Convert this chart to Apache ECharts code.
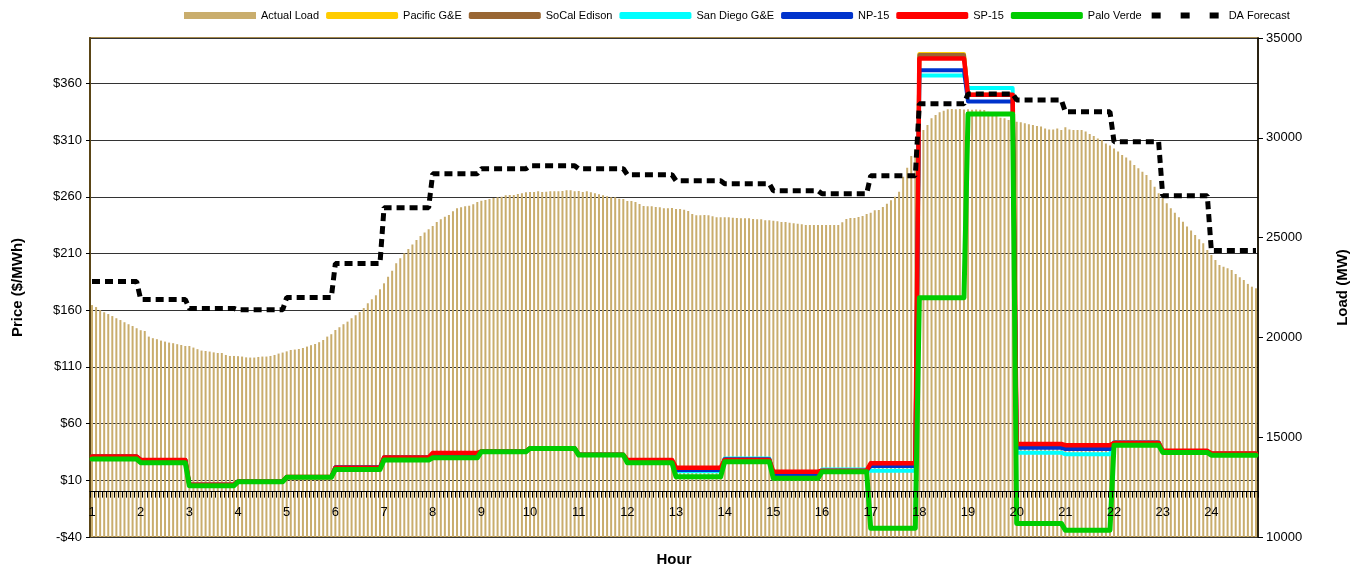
<!DOCTYPE html>
<html>
<head>
<meta charset="utf-8">
<script src="https://cdn.jsdelivr.net/npm/echarts/dist/echarts.min.js"></script>
<style>
  html, body { margin: 0; padding: 0; background: #fff; }
  #chart { width: 1356px; height: 567px; }
</style>
</head>
<body>
<div id="chart"></div>
<script>
// hour labels on the category axis (12 five-minute slots per hour)
const hourLabels = ['1','2','3','4','5','6','7','8','9','10','11','12','13','14','15','16','17','18','19','20','21','22','23','24'];

// actual load, MW, one value per 5-minute interval (288)
const actualLoad = [
  21620,21520,21370,21260,21170,21070,20960,20870,20760,20660,
  20570,20460,20360,20320,20040,19960,19910,19840,19790,19740,
  19710,19660,19620,19570,19570,19490,19410,19340,19320,19290,
  19250,19220,19220,19120,19070,19070,19060,19040,19000,18990,
  18990,19020,19040,19040,19070,19120,19190,19240,19300,19370,
  19390,19420,19470,19540,19610,19670,19760,19870,20040,20160,
  20370,20510,20660,20790,20960,21110,21270,21470,21710,21910,
  22110,22410,22710,23040,23340,23710,23960,24210,24430,24650,
  24880,25080,25250,25420,25580,25780,25920,26050,26130,26320,
  26470,26520,26570,26590,26670,
  26780,26850,26880,26930,26980,27020,27050,27120,27130,27130,
  27180,27220,27270,27280,27280,27320,27280,27300,27320,27320,
  27320,27330,27370,27370,27320,27330,27280,27320,27270,27220,
  27170,27120,27070,27020,27020,26950,26930,26830,26830,26780,
  26680,26580,26570,26570,26530,26520,26470,26470,26480,26430,
  26430,26400,26330,26180,26120,26120,26130,26120,26070,26020,
  26020,26020,26020,26000,25980,25970,25970,25970,25930,25920,
  25920,25870,25870,25850,25820,25780,25780,25750,25720,25700,
  25670,25630,25630,25630,25630,25630,25630,25630,25630,25630,
  25770,25930,25980,25980,26030,26080,26180,26250,26370,26380,
  26530,26700,26870,27050,27300,
  28050,28500,29090,29440,29890,30390,30640,30980,31140,31280,
  31360,31430,31440,31430,31440,31420,31430,31400,31420,31400,
  31390,31300,31100,
  31090,31000,30980,30890,30840,30810,30780,30730,30680,30640,
  30590,30560,30470,30420,30420,30460,30390,30530,30420,30390,
  30390,30390,30310,30190,30090,29970,29890,29720,29610,29470,
  29310,29140,29010,28860,28640,28470,28300,28140,27890,27550,
  27220,26970,26720,26470,26250,26020,25800,25550,25350,25130,
  24920,24720,24380,24130,23880,23630,23540,23460,23380,23180,
  23010,22880,22680,22540,22460
];

// hourly prices, $/MWh
const pacificGE  = [31, 28, 6, 9, 13, 21, 30, 31, 35.5, 38.3, 32.5, 27.5, 19, 28.5, 16, 18.5, 24, 386, 350, 41, 40, 43, 35.5, 33.5];
const socalEdison = [31, 28, 6, 9, 13, 21, 30, 31, 35.5, 38.3, 32.5, 27.5, 19, 28.5, 16, 18.5, 24, 385, 350, 41.5, 40.5, 43, 35.5, 33.5];
const sanDiegoGE = [30.5, 27.5, 6, 9, 13, 21, 30, 31, 35.5, 38.3, 32.5, 27, 18, 29.3, 15.5, 19.6, 18.4, 367, 356, 34.3, 32.9, 43.7, 35.5, 33.5];
const np15       = [31, 28, 6, 9, 13, 21.5, 30, 31, 35.5, 38.3, 32.5, 27, 19, 28.5, 15.5, 18.5, 22.6, 371.5, 344, 38.7, 37.5, 43, 35.5, 33.5];
const sp15       = [31, 28, 6, 9, 13, 21, 30, 34, 35.5, 38.3, 32.5, 28, 21, 28, 17.5, 18.5, 25, 382, 350, 42, 41, 43, 36, 33.7];
const paloVerde  = [28.7, 25.5, 5.2, 8.7, 12.6, 19.6, 27.8, 29.9, 35.2, 38.1, 32.2, 25.5, 13.1, 26.4, 11.7, 17.5, -32.3, 171, 333, -28, -34, 41, 34.6, 32];

// day-ahead load forecast, MW, hourly
const daForecast = [22800, 21900, 21450, 21380, 22000, 23700, 26500, 28200, 28450, 28600, 28450, 28150, 27850, 27700, 27350, 27200, 28100, 31700, 32200, 31900, 31300, 29800, 27100, 24350];

const SLOTS = 12;
const slots = [];
hourLabels.forEach(h => { for (let m = 0; m < SLOTS; m++) slots.push(h + ':' + String(m * 5).padStart(2, '0')); });

// each hourly value held over its 12 five-minute slots
const hourly = arr => arr.flatMap(v => Array(SLOTS).fill(v));

const font = 'Liberation Sans, Arial, sans-serif';
const W = 1356, H = 567;
const grid = { left: 90, right: 98, top: 38, bottom: 30 };
const priceMin = -40, priceMax = 400;
// hour axis sits on the $0 line of the price axis
const plotH = H - grid.top - grid.bottom;
const zeroOffset = -(0 - priceMin) / (priceMax - priceMin) * plotH;

const priceLine = (name, data, color, width) => ({
  name, type: 'line', yAxisIndex: 0, data: hourly(data),
  symbol: 'none', lineStyle: { color, width, cap: 'round', join: 'round' },
  itemStyle: { color }
});

const chart = echarts.init(document.getElementById('chart'));
chart.setOption({
  animation: false,
  textStyle: { fontFamily: font },
  grid: Object.assign({ show: true, borderColor: '#A68A4E', borderWidth: 2, containLabel: false, outerBoundsMode: 'none' }, grid),
  legend: {
    left: 184, top: 10, itemWidth: 72, itemHeight: 7, itemGap: 7, padding: 0,
    textStyle: { fontSize: 11, color: '#000', fontFamily: font },
    data: [
      { name: 'Actual Load', icon: 'rect' },
      { name: 'Pacific G&E', icon: 'roundRect' },
      { name: 'SoCal Edison', icon: 'roundRect' },
      { name: 'San Diego G&E', icon: 'roundRect' },
      { name: 'NP-15', icon: 'roundRect' },
      { name: 'SP-15', icon: 'roundRect' },
      { name: 'Palo Verde', icon: 'roundRect' },
      { name: 'DA Forecast', itemStyle: { opacity: 0 }, lineStyle: { width: 6, type: [9, 20] } }
    ]
  },
  xAxis: {
    type: 'category', data: slots, z: 5, position: 'bottom', offset: zeroOffset,
    name: 'Hour', nameLocation: 'middle', nameGap: 61,
    nameTextStyle: { fontSize: 15, fontWeight: 'bold', color: '#000' },
    axisLine: { onZero: false, lineStyle: { color: '#000', width: 1 } },
    axisTick: { show: true, interval: 0, length: 6, lineStyle: { color: '#000', width: 1 } },
    axisLabel: {
      interval: i => i % SLOTS === 0,
      formatter: (v, i) => hourLabels[Math.floor(i / SLOTS)],
      fontSize: 13, color: '#000', margin: 14
    }
  },
  yAxis: [
    {
      type: 'value', min: priceMin, max: priceMax, interval: 50,
      name: 'Price ($/MWh)', nameLocation: 'middle', nameGap: 65, nameRotate: 90,
      nameTextStyle: { fontSize: 15, fontWeight: 'bold', color: '#000' },
      axisLine: { show: true, lineStyle: { color: '#5A4516', width: 2 } },
      axisTick: { show: true, length: 4, lineStyle: { color: '#000' } },
      axisLabel: { fontSize: 13, color: '#000', showMaxLabel: false,
        formatter: v => (v < 0 ? '-$' + Math.abs(v) : '$' + v) },
      splitLine: { lineStyle: { color: '#333', width: 1 } }
    },
    {
      type: 'value', min: 10000, max: 35000, interval: 5000, position: 'right',
      name: 'Load (MW)', nameLocation: 'middle', nameGap: 77, nameRotate: 90,
      nameTextStyle: { fontSize: 15, fontWeight: 'bold', color: '#000' },
      axisLine: { show: true, lineStyle: { color: '#000', width: 1.5 } },
      axisTick: { show: true, length: 5, lineStyle: { color: '#000' } },
      axisLabel: { fontSize: 13, color: '#000', formatter: v => String(v) },
      splitLine: { show: false }
    }
  ],
  series: [
    {
      name: 'Actual Load', type: 'bar', yAxisIndex: 1, data: actualLoad,
      barWidth: 2, clip: true, itemStyle: { color: '#C9AD6D' }
    },
    priceLine('Pacific G&E', pacificGE, '#FFCC00', 4),
    priceLine('SoCal Edison', socalEdison, '#996633', 4),
    priceLine('San Diego G&E', sanDiegoGE, '#00FFFF', 4),
    priceLine('NP-15', np15, '#0033CC', 4),
    priceLine('SP-15', sp15, '#FF0000', 4.5),
    priceLine('Palo Verde', paloVerde, '#00CC00', 5),
    {
      name: 'DA Forecast', type: 'line', yAxisIndex: 1, data: hourly(daForecast),
      symbol: 'none', lineStyle: { color: '#000', width: 5, type: [8, 5] },
      itemStyle: { color: '#000' }
    }
  ]
});
</script>
</body>
</html>
